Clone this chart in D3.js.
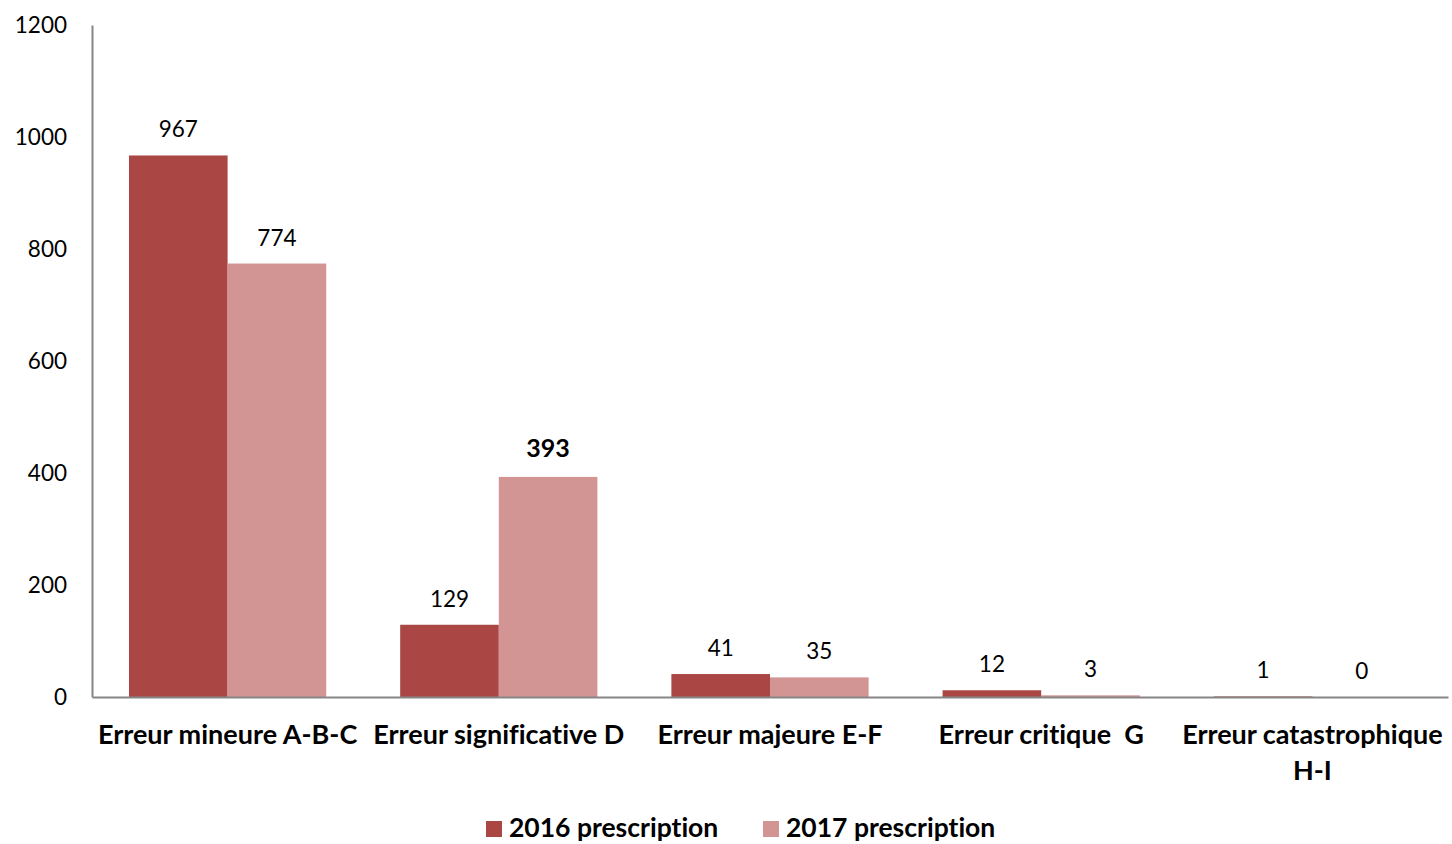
<!DOCTYPE html>
<html>
<head>
<meta charset="utf-8">
<script src="https://cdn.jsdelivr.net/npm/d3@7"></script>
<style>
  html, body { margin: 0; padding: 0; background: #fff; }
  svg { display: block; font-family: Lato, "Open Sans", sans-serif; }
  text { white-space: pre; font-variant-ligatures: none; font-feature-settings: "liga" 0, "dlig" 0; }
</style>
</head>
<body>
<svg id="chart" width="1452" height="844"></svg>
<script>
// Error categories (second line of a label after "\n")
const categories = [
  "Erreur mineure A-B-C",
  "Erreur significative D",
  "Erreur majeure E-F",
  "Erreur critique  G",
  "Erreur catastrophique\nH-I"
];
const seriesNames = ["2016 prescription", "2017 prescription"];
const values2016 = [967, 129, 41, 12, 1];
const values2017 = [774, 393, 35, 3, 0];
const yTicks = [0, 200, 400, 600, 800, 1000, 1200];
// Labels drawn in bold (series index, category index)
const emphasized = [[1, 1]];

const colors = ["#AA4643", "#D39494"];

const svg = d3.select("#chart");
const margin = { left: 92, right: 4, top: 25, bottom: 147 };
const W = 1452, H = 844;
const plotW = W - margin.left - margin.right;
const plotH = H - margin.top - margin.bottom;

const g = svg.append("g").attr("transform", `translate(${margin.left},${margin.top})`);

const x = d3.scaleBand().domain(categories).range([0, plotW]).paddingInner(0).paddingOuter(0);
// gap between groups = 75% of a bar width
const barW = x.bandwidth() / 2.75;
const xs = d3.scaleBand().domain(seriesNames).range([0, barW * 2]);
const groupOffset = (x.bandwidth() - barW * 2) / 2;

const y = d3.scaleLinear().domain([0, 1200]).range([plotH, 0]);

const data = categories.map((c, i) => ({ cat: c, vals: [values2016[i], values2017[i]] }));
const isEmph = d => emphasized.some(e => e[0] === d.si && e[1] === d.ci);

// Bars
const groups = g.selectAll("g.grp").data(data).join("g")
  .attr("class", "grp")
  .attr("transform", d => `translate(${x(d.cat) + groupOffset},0)`);

groups.selectAll("rect").data((d, ci) => d.vals.map((v, si) => ({ v, si, ci }))).join("rect")
  .attr("x", d => xs(seriesNames[d.si]))
  .attr("width", xs.bandwidth())
  .attr("y", d => y(d.v))
  .attr("height", d => plotH - y(d.v))
  .attr("fill", d => colors[d.si]);

// Value labels
groups.selectAll("text.val").data((d, ci) => d.vals.map((v, si) => ({ v, si, ci }))).join("text")
  .attr("class", "val")
  .attr("x", d => xs(seriesNames[d.si]) + xs.bandwidth() / 2)
  .attr("y", d => y(d.v) - (isEmph(d) ? 20 : 18))
  .attr("text-anchor", "middle")
  .attr("font-size", d => isEmph(d) ? 25 : 22.5)
  .attr("font-weight", d => isEmph(d) ? "bold" : "normal")
  .attr("fill", "#000")
  .text(d => d.v);

// Y axis
const yAxis = d3.axisLeft(y).tickValues(yTicks).tickSize(0).tickPadding(25).tickFormat(d3.format("d"));
const ya = g.append("g").call(yAxis);
ya.select(".domain").attr("stroke", "#868686").attr("stroke-width", 2);
ya.selectAll("text").attr("font-size", 22.5).attr("fill", "#000").attr("font-family", "Lato, sans-serif");

// X axis
const xAxis = d3.axisBottom(x).tickSize(0).tickFormat("");
const xa = g.append("g").attr("transform", `translate(0,${plotH})`).call(xAxis);
xa.select(".domain").attr("stroke", "#868686").attr("stroke-width", 2);

// Category labels (bold, possibly two lines)
g.selectAll("text.cat").data(categories).join("text")
  .attr("class", "cat")
  .attr("text-anchor", "middle")
  .attr("font-size", 27)
  .attr("font-weight", "bold")
  .attr("fill", "#000")
  .each(function (c) {
    const lines = c.split("\n");
    const t = d3.select(this);
    lines.forEach((ln, i) => {
      t.append("tspan")
        .attr("x", x(c) + x.bandwidth() / 2)
        .attr("y", plotH + 47 + i * 36)
        .text(ln);
    });
  });

// Legend
const legend = svg.append("g");
const legendX = [486, 763];
seriesNames.forEach((name, i) => {
  legend.append("rect")
    .attr("x", legendX[i]).attr("y", 821)
    .attr("width", 16).attr("height", 16)
    .attr("fill", colors[i]);
  legend.append("text")
    .attr("x", legendX[i] + 23).attr("y", 837)
    .attr("font-size", 26.5).attr("font-weight", "bold")
    .attr("fill", "#000")
    .text(name);
});
</script>
</body>
</html>
